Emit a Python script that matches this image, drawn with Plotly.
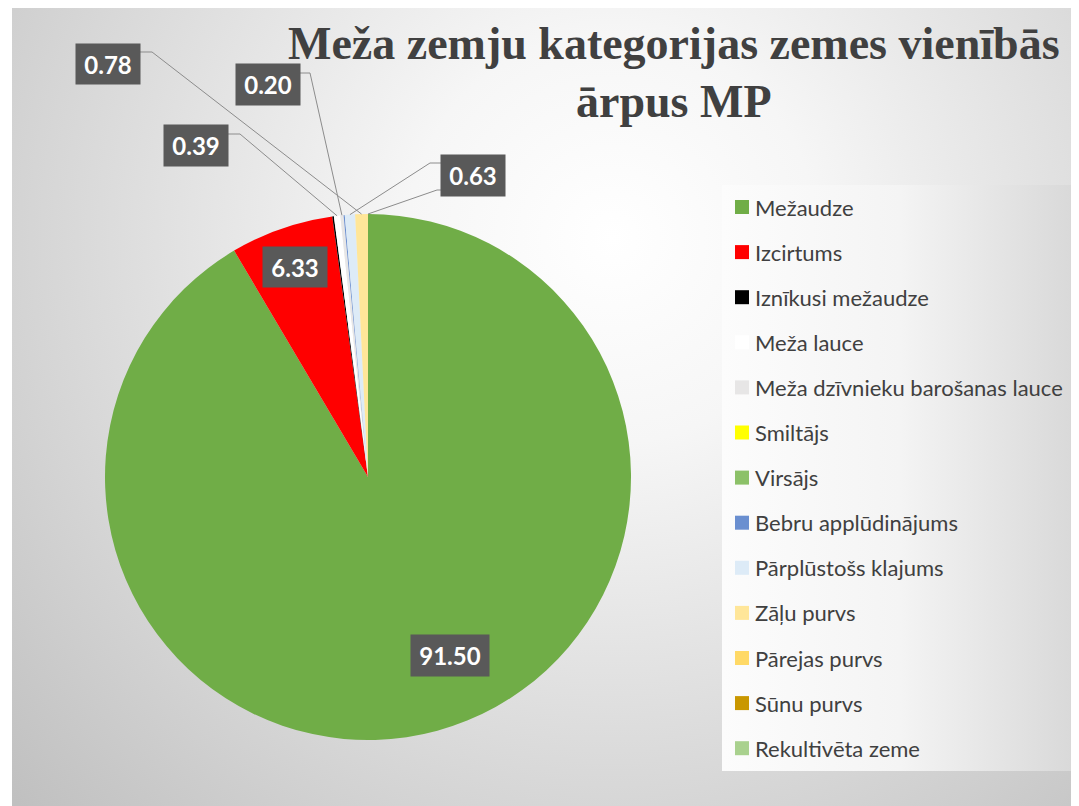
import base64
import math
import plotly.graph_objects as go

# ---------------- data ----------------
categories = [
    "Mežaudze", "Izcirtums", "Iznīkusi mežaudze", "Meža lauce",
    "Meža dzīvnieku barošanas lauce", "Smiltājs", "Virsājs",
    "Bebru applūdinājums", "Pārplūstošs klajums", "Zāļu purvs",
    "Pārejas purvs", "Sūnu purvs", "Rekultivēta zeme",
]
values = [91.50, 6.33, 0.10, 0.39, 0.20, 0.0, 0.0, 0.07, 0.63, 0.78, 0.0, 0.0, 0.0]
colors = [
    "#70AD47", "#FF0000", "#000000", "#FFFFFF", "#E7E6E6", "#FFFF00", "#8CC168",
    "#6A8FD0", "#DDEBF7", "#FFE699", "#FFD966", "#C99700", "#A9D18E",
]
title_lines = ["Meža zemju kategorijas zemes vienībās", "ārpus MP"]

# ---------------- layout / style ----------------
W, H = 1079, 806
OFF = 8                              # page body margin
CX, CY, R = 368, 477, 263            # pie centre and radius (screen px)

def px(x):
    return (x - OFF) / W

def py(y):
    return 1 - (y - OFF) / H

# label boxes: category -> (box centre px, box size, leader path in px from box to elbow)
label_style = {
    "Mežaudze": dict(c=(450, 655), s=(78, 41), lead=None),
    "Izcirtums": dict(c=(295, 267), s=(64, 40), lead=None),
    "Meža lauce": dict(c=(196, 146), s=(64, 41), lead=[(228, 134), (240, 134)]),
    "Meža dzīvnieku barošanas lauce": dict(c=(268, 85), s=(64, 41), lead=[(300, 73), (310, 73)]),
    "Pārplūstošs klajums": dict(c=(473, 176), s=(64, 41), lead=[(441, 163), (430, 163)]),
    "Zāļu purvs": dict(c=(108, 64), s=(64, 40), lead=[(140, 52), (152, 52)]),
    # label hidden behind another box - only its leader line is visible
    "Pārejas purvs": dict(c=None, s=None, lead=[(441, 190), (437, 190)]),
}

total = sum(values)
mid_angle = {}
cum = 0.0
for c, v in zip(categories, values):
    mid_angle[c] = 360.0 * (cum + v / 2) / total
    cum += v

fig = go.Figure()
fig.add_trace(go.Pie(
    labels=categories, values=values, sort=False, direction="clockwise", rotation=0,
    marker=dict(colors=colors, line=dict(width=0)),
    textinfo="none", hoverinfo="label+value", showlegend=False,
    domain=dict(x=[px(CX - R), px(CX + R)], y=[py(CY + R), py(CY - R)]),
))

shapes = []
annotations = []

for cat, st in label_style.items():
    if st["lead"]:
        a = math.radians(mid_angle[cat])
        ex = CX + R * math.sin(a)
        ey = CY - R * math.cos(a)
        pts = st["lead"] + [(ex, ey)]
        path = "M " + " L ".join(f"{px(x):.5f},{py(y):.5f}" for x, y in pts)
        shapes.append(dict(type="path", xref="paper", yref="paper", path=path,
                           line=dict(color="#8C8C8C", width=1)))
    if st["c"]:
        v = values[categories.index(cat)]
        annotations.append(dict(
            x=px(st["c"][0]), y=py(st["c"][1]), xref="paper", yref="paper",
            text=f"<b>{v:.2f}</b>", showarrow=False, xanchor="center", yanchor="middle",
            width=st["s"][0], height=st["s"][1], bgcolor="#595959", borderpad=0,
            font=dict(family="Lato", size=24, color="#FFFFFF"),
        ))

# title (two lines placed separately to match the line spacing)
for line, yc in zip(title_lines, [44, 102]):
    annotations.append(dict(
        x=px(674), y=py(yc), xref="paper", yref="paper", xanchor="center", yanchor="middle",
        text=f"<b>{line}</b>", showarrow=False, align="center",
        font=dict(family="Liberation Serif", size=46, color="#404040"),
    ))

# manual legend
LEG_X0, LEG_Y0, LEG_DY = 735, 207, 45.1
for i, (cat, col) in enumerate(zip(categories, colors)):
    yc = LEG_Y0 + i * LEG_DY
    shapes.append(dict(type="rect", xref="paper", yref="paper",
                       x0=px(LEG_X0), x1=px(LEG_X0 + 14), y0=py(yc + 7), y1=py(yc - 7),
                       fillcolor=col, line=dict(width=0)))
    annotations.append(dict(
        x=px(LEG_X0 + 18), y=py(yc), xref="paper", yref="paper", xanchor="left", yanchor="middle",
        text=cat, showarrow=False, font=dict(family="Lato", size=22, color="#404040"),
    ))

# backgrounds (gradients via svg images)
BG_X0, BG_Y0 = 12, 8
bg_w, bg_h = W + OFF - BG_X0, H + OFF - BG_Y0
bg_svg = (f'<svg xmlns="http://www.w3.org/2000/svg" width="{bg_w}" height="{bg_h}" viewBox="0 0 {bg_w} {bg_h}">'
          f'<defs><radialGradient id="g" cx="600" cy="230" r="820" gradientUnits="userSpaceOnUse">'
          f'<stop offset="0" stop-color="#ffffff"/><stop offset="0.25" stop-color="#f6f6f6"/>'
          f'<stop offset="1" stop-color="#c0c0c0"/></radialGradient></defs>'
          f'<rect width="{bg_w}" height="{bg_h}" fill="url(#g)"/></svg>')
LEG_BX0, LEG_BY0, LEG_BX1, LEG_BY1 = 722, 185, 1078, 771
leg_w, leg_h = LEG_BX1 - LEG_BX0, LEG_BY1 - LEG_BY0
leg_svg = (f'<svg xmlns="http://www.w3.org/2000/svg" width="{leg_w}" height="{leg_h}" viewBox="0 0 {leg_w} {leg_h}">'
           f'<defs><linearGradient id="l" x1="0" y1="0" x2="1" y2="0">'
           f'<stop offset="0" stop-color="#fcfcfc"/><stop offset="0.5" stop-color="#f4f4f4"/>'
           f'<stop offset="1" stop-color="#d8d8d8"/></linearGradient></defs>'
           f'<rect width="{leg_w}" height="{leg_h}" fill="url(#l)"/></svg>')

def uri(svg):
    return "data:image/svg+xml;base64," + base64.b64encode(svg.encode()).decode()

images = [
    dict(source=uri(bg_svg), xref="paper", yref="paper", x=px(BG_X0), y=py(BG_Y0),
         sizex=bg_w / W, sizey=bg_h / H, xanchor="left", yanchor="top",
         sizing="stretch", layer="below"),
    dict(source=uri(leg_svg), xref="paper", yref="paper", x=px(LEG_BX0), y=py(LEG_BY0),
         sizex=leg_w / W, sizey=leg_h / H, xanchor="left", yanchor="top",
         sizing="stretch", layer="below"),
]

fig.update_layout(
    width=W, height=H, autosize=False,
    margin=dict(l=0, r=0, t=0, b=0),
    paper_bgcolor="#FFFFFF", plot_bgcolor="rgba(0,0,0,0)",
    shapes=shapes, annotations=annotations, images=images,
    showlegend=False,
)

fig.write_html("out.html")
